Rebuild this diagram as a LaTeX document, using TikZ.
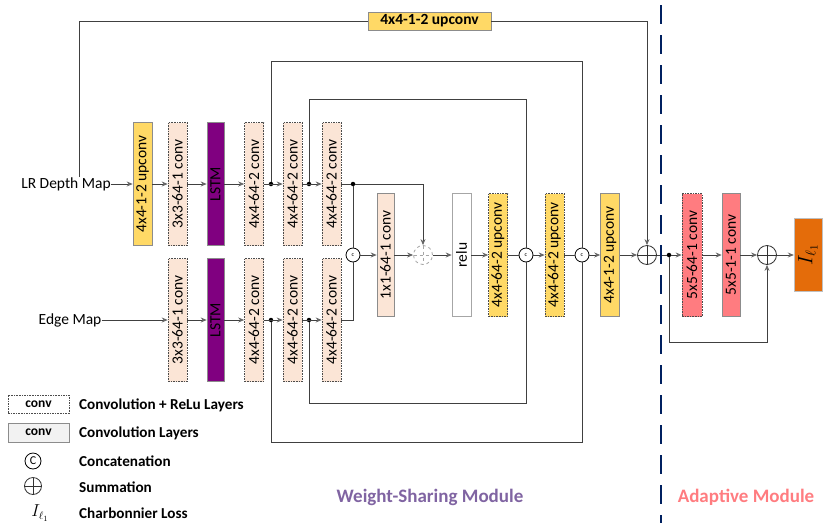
\documentclass[tikz,border=0pt]{standalone}
\usepackage{fontspec}
\setmainfont{Carlito}
\usetikzlibrary{arrows.meta, positioning}
\definecolor{yel}{HTML}{FFD966}
\definecolor{beige}{HTML}{FBE5D6}
\definecolor{purp}{HTML}{800080}
\definecolor{pinkc}{HTML}{FF7C80}
\definecolor{orng}{HTML}{E46C0A}
\definecolor{navyc}{HTML}{002060}
\definecolor{wsm}{HTML}{8064A2}
\newcommand{\uptxt}[1]{\rotatebox{90}{#1}}

\begin{document}
\begin{tikzpicture}[x=1pt, y=-1pt,
  every node/.style={inner sep=0pt, font=\fontsize{15.5}{17}\selectfont},
  wire/.style={draw=black!75, line width=0.8pt},
  arr/.style={wire, -{Stealth[length=6pt,width=5pt,color=black!60]}},
  lyr/.style={rectangle, draw=black!45, line width=0.6pt, minimum width=19pt, minimum height=123pt},
  dlyr/.style={lyr, draw=black!70, dash pattern=on 1.6pt off 1pt},
  catnode/.style={circle, draw=black, line width=0.8pt, fill=white, minimum size=14pt, font=\fontsize{6}{6}\selectfont},
  sumnode/.style={circle, draw=#1, line width=0.8pt, fill=white, minimum size=19pt,
    path picture={\draw[#1, line width=0.6pt] (path picture bounding box.north) -- (path picture bounding box.south)
      (path picture bounding box.west) -- (path picture bounding box.east);}},
  sumnode/.default=black!80,
  jdot/.style={circle, fill=black, minimum size=4.5pt},
  inlbl/.style={font=\fontsize{15.5}{17}\selectfont},
  lgtext/.style={anchor=west, font=\fontsize{15.2}{17}\selectfont\bfseries},
  modlbl/.style={font=\fontsize{19}{21}\selectfont\bfseries}]
  \useasboundingbox (0,0) rectangle (825,523);

  % inputs
  \node[inlbl] (lr) at (66,184) {LR Depth Map};
  \node[inlbl] (edge) at (70,320) {Edge Map};

  % upper branch
  \node[lyr, fill=yel] (up1) at (142.5,184) {\uptxt{4x4-1-2 upconv}};
  \node[dlyr, fill=beige] (c1t) at (177.5,184) {\uptxt{3x3-64-1 conv}};
  \node[lyr, fill=purp, minimum width=17pt] (ls1) at (215.5,184) {\uptxt{LSTM}};
  \node[dlyr, fill=beige] (c2t) at (254,184) {\uptxt{4x4-64-2 conv}};
  \node[dlyr, fill=beige] (c3t) at (292.5,184) {\uptxt{4x4-64-2 conv}};
  \node[dlyr, fill=beige] (c4t) at (331.5,184) {\uptxt{4x4-64-2 conv}};

  % lower branch
  \node[dlyr, fill=beige] (c1b) at (177.5,320) {\uptxt{3x3-64-1 conv}};
  \node[lyr, fill=purp, minimum width=17pt] (ls2) at (215.5,320) {\uptxt{LSTM}};
  \node[dlyr, fill=beige] (c2b) at (254,320) {\uptxt{4x4-64-2 conv}};
  \node[dlyr, fill=beige] (c3b) at (292.5,320) {\uptxt{4x4-64-2 conv}};
  \node[dlyr, fill=beige] (c4b) at (331.5,320) {\uptxt{4x4-64-2 conv}};

  \node[jdot] (d1) at (271,184) {};
  \node[jdot] (d2) at (309,184) {};
  \node[jdot] (d3) at (353,184) {};
  \node[jdot] (e1) at (271,320) {};
  \node[jdot] (e2) at (309,320) {};

  % fused path
  \node[catnode] (cat1) at (353,255) {c};
  \node[lyr, fill=beige, minimum width=17pt] (fuse) at (385.5,255) {\uptxt{1x1-64-1 conv}};
  \node[sumnode=black!35, dashed] (sum1) at (423,255) {};
  \node[lyr, fill=white, draw=black!35] (relu) at (461.5,255) {\uptxt{relu}};
  \node[dlyr, fill=yel] (upa) at (498,255) {\uptxt{4x4-64-2 upconv}};
  \node[catnode] (cat2) at (526,255) {c};
  \node[dlyr, fill=yel] (upb) at (554.5,255) {\uptxt{4x4-64-2 upconv}};
  \node[catnode] (cat3) at (582,255) {c};
  \node[lyr, fill=yel] (upc) at (610,255) {\uptxt{4x4-1-2 upconv}};
  \node[sumnode] (sum2) at (647,255) {};
  \node[jdot] (d4) at (669,255) {};
  \node[dlyr, fill=pinkc, minimum width=20pt] (rc1) at (692,255) {\uptxt{5x5-64-1 conv}};
  \node[lyr, fill=pinkc, minimum width=18pt] (rc2) at (731,255) {\uptxt{5x5-1-1 conv}};
  \node[sumnode] (sum3) at (767,255) {};
  \node[fill=orng, draw=black!25, minimum width=28pt, minimum height=73pt,
    font=\fontsize{22}{24}\selectfont] (out) at (808,255) {\uptxt{$I_{\ell_1}$}};

  \node[lyr, fill=yel, minimum width=123pt, minimum height=18pt,
    font=\fontsize{15.5}{17}\selectfont\bfseries] (upt) at (429.5,21) {4x4-1-2 upconv};

  \coordinate (k2) at (582,61);
  \coordinate (k2b) at (582,442);
  \coordinate (k3) at (526,99);
  \coordinate (k3b) at (526,403);
  \coordinate (fb) at (767,342);

  % main flow
  \draw[arr] (lr) -- (up1);
  \draw[arr] (up1) -- (c1t);
  \draw[arr] (c1t) -- (ls1);
  \draw[arr] (ls1) -- (c2t);
  \draw[arr] (c2t) -- (c3t);
  \draw[arr] (c3t) -- (c4t);
  \draw[arr] (edge) -- (c1b);
  \draw[arr] (c1b) -- (ls2);
  \draw[arr] (ls2) -- (c2b);
  \draw[arr] (c2b) -- (c3b);
  \draw[arr] (c3b) -- (c4b);
  \draw[wire] (c4t) -- (d3);
  \draw[arr] (d3) -| (sum1);
  \draw[wire] (d3) -- (cat1);
  \draw[wire] (c4b) -| (cat1);
  \draw[arr] (cat1) -- (fuse);
  \draw[arr] (fuse) -- (sum1);
  \draw[arr] (sum1) -- (relu);
  \draw[arr] (relu) -- (upa);
  \draw[wire] (upa) -- (cat2);
  \draw[arr] (cat2) -- (upb);
  \draw[wire] (upb) -- (cat3);
  \draw[arr] (cat3) -- (upc);
  \draw[arr] (upc) -- (sum2);
  \draw[wire] (sum2) -- (d4);
  \draw[arr] (d4) -- (rc1);
  \draw[arr] (rc1) -- (rc2);
  \draw[arr] (rc2) -- (sum3);
  \draw[arr] (sum3) -- (out);
  \draw[arr] (d4) |- (fb) -- (sum3);

  % skip connections
  \draw[wire] ([xshift=13pt]lr.north) |- (upt);
  \draw[arr] (upt) -| (sum2);
  \draw[wire] (d1) |- (k2) -- (cat3);
  \draw[wire] (e1) |- (k2b) -- (cat3);
  \draw[wire] (d2) |- (k3) -- (cat2);
  \draw[wire] (e2) |- (k3b) -- (cat2);

  % module divider
  \draw[navyc, line width=2.4pt, dash pattern=on 19pt off 11pt] (661,5) -- (661,523);
  \node[modlbl, text=wsm] (wsl) at (430,497) {Weight-Sharing Module};
  \node[modlbl, text=pinkc] (adl) at (746,497) {Adaptive Module};

  % legend
  \node[dlyr, fill=white, minimum width=61pt, minimum height=18pt,
    font=\fontsize{13.5}{15}\selectfont\bfseries] (lg1) at (38.5,404) {conv};
  \node[lyr, fill=black!5, minimum width=61pt, minimum height=19pt,
    font=\fontsize{13.5}{15}\selectfont\bfseries] (lg2) at (38.5,432.5) {conv};
  \node[catnode, minimum size=16pt, font=\fontsize{12}{12}\selectfont] (lg3) at (33,461) {C};
  \node[sumnode, minimum size=17pt] (lg4) at (33,486) {};
  \node[font=\fontsize{16}{16}\selectfont] (lg5) at (40,513) {$I_{\ell_1}$};
  \node[lgtext] (lt1) at (79,405) {Convolution + ReLu Layers};
  \node[lgtext] (lt2) at (79,433) {Convolution Layers};
  \node[lgtext] (lt3) at (79,461) {Concatenation};
  \node[lgtext] (lt4) at (79,487) {Summation};
  \node[lgtext] (lt5) at (79,513) {Charbonnier Loss};
\end{tikzpicture}
\end{document}
